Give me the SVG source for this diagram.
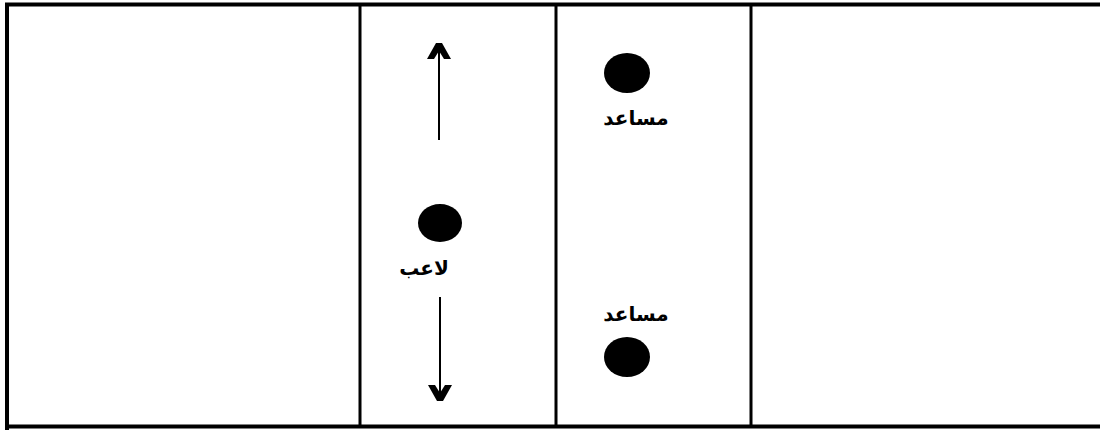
<svg xmlns="http://www.w3.org/2000/svg" width="1100" height="430" viewBox="0 0 1100 430">
  <style>
    .border { fill: none; stroke: #000; stroke-width: 4; }
    .divider { stroke: #000; stroke-width: 3; }
    .dot { fill: #000; }
    .lbl { font-family: "DejaVu Sans", "Liberation Sans", sans-serif; font-size: 20px; font-weight: bold; fill: #000; text-anchor: middle; }
    .arrow { stroke: #000; stroke-width: 2; fill: none; }
  </style>
  <defs>
    <marker id="up" viewBox="0 0 24 18" refX="12" refY="6" markerWidth="24" markerHeight="18" markerUnits="userSpaceOnUse" orient="0">
      <path d="M0,17 L9,1 L15,1 L24,17 L17,17 L12,9 L7,17 Z" fill="#000"/>
    </marker>
    <marker id="down" viewBox="0 0 24 18" refX="12" refY="12" markerWidth="24" markerHeight="18" markerUnits="userSpaceOnUse" orient="0">
      <path d="M0,1 L9,17 L15,17 L24,1 L17,1 L12,9 L7,1 Z" fill="#000"/>
    </marker>
  </defs>
  <rect width="1100" height="430" fill="#fff"/>
  <g id="field">
    <path class="border" d="M7,430 L7,4.5 L1100,4.5 M7,426.5 L1100,426.5"/>
    <line class="divider" x1="360" y1="4" x2="360" y2="426"/>
    <line class="divider" x1="556" y1="4" x2="556" y2="426"/>
    <line class="divider" x1="751" y1="4" x2="751" y2="426"/>
  </g>
  <g id="connectors">
    <line class="arrow" x1="439" y1="140" x2="439" y2="48" marker-end="url(#up)"/>
    <line class="arrow" x1="440" y1="297" x2="440" y2="396" marker-end="url(#down)"/>
  </g>
  <g id="player">
    <ellipse class="dot" cx="440" cy="223" rx="22" ry="19"/>
    <text class="lbl" x="424" y="275">لاعب</text>
  </g>
  <g id="assistant-top">
    <ellipse class="dot" cx="627" cy="73" rx="23" ry="20"/>
    <text class="lbl" x="636" y="125">مساعد</text>
  </g>
  <g id="assistant-bottom">
    <ellipse class="dot" cx="627" cy="357" rx="23" ry="20"/>
    <text class="lbl" x="636" y="321">مساعد</text>
  </g>
</svg>
